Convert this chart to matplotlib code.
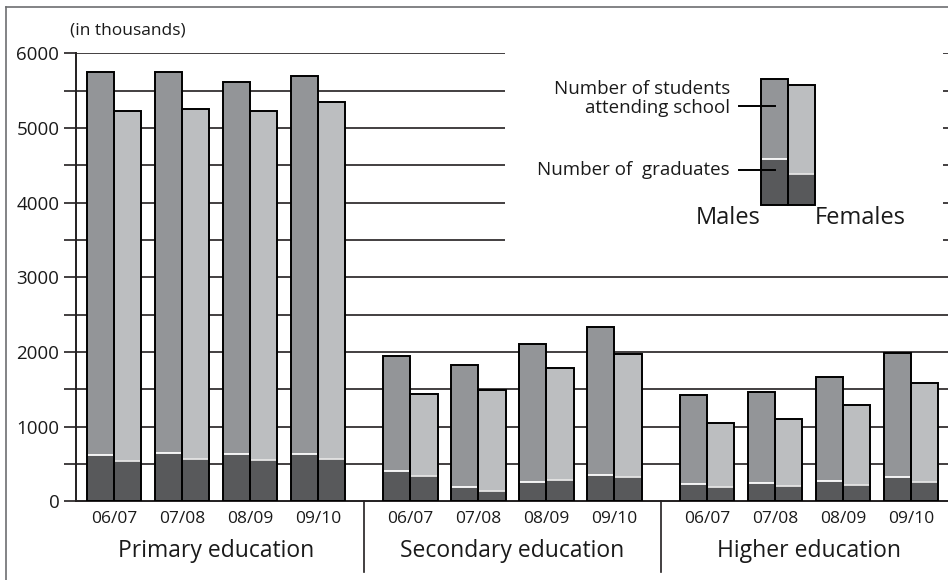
import matplotlib
matplotlib.use("Agg")
import matplotlib.pyplot as plt
from matplotlib.lines import Line2D

plt.rcParams['font.family'] = ['Open Sans', 'DejaVu Sans']

# ---------------- data (thousands) ----------------
groups = ["Primary education", "Secondary education", "Higher education"]
years = ["06/07", "07/08", "08/09", "09/10"]

male_students = [
    [5750, 5750, 5620, 5700],   # primary
    [1950, 1820, 2110, 2340],   # secondary
    [1430, 1460, 1670, 1980],   # higher
]
female_students = [
    [5230, 5260, 5230, 5350],
    [1440, 1490, 1780, 1970],
    [1050, 1100, 1290, 1590],
]
male_graduates = [
    [620, 650, 640, 640],
    [400, 190, 265, 350],
    [235, 240, 270, 320],
]
female_graduates = [
    [540, 560, 550, 560],
    [340, 140, 280, 330],
    [185, 205, 225, 265],
]

yticks_major = [0, 1000, 2000, 3000, 4000, 5000, 6000]
grid_values = [500, 1000, 1500, 2000, 2500, 3000, 3500, 4000, 4500, 5000, 5500, 6000]

# legend sample values
leg_male = (5650, 4580)
leg_female = (5570, 4380)
leg_base = 3970

# ---------------- style ----------------
C_MALE = "#939598"
C_FEMALE = "#bcbec0"
C_GRAD = "#58595b"
C_LINE = "#231f20"
C_TEXT = "#1a1a1a"
BW = 0.40
GSTEP = 4.36

fig = plt.figure(figsize=(9.48, 5.80), dpi=100)
ax = fig.add_axes([76 / 948, (580 - 501.3) / 580, (948 - 76) / 948, 448 / 580])
ax.set_xlim(-0.559, 12.265)
ax.set_ylim(0, 6000)

# gridlines (with a gap where the legend sits)
gap_l, gap_r = 5.75, 12.19
xl, xr = ax.get_xlim()
for v in grid_values:
    if v > 3000:
        ax.plot([xl, gap_l], [v, v], color=C_LINE, lw=1.2, zorder=1, solid_capstyle='butt')
        ax.plot([gap_r, xr], [v, v], color=C_LINE, lw=1.2, zorder=1, solid_capstyle='butt')
    else:
        ax.plot([xl, xr], [v, v], color=C_LINE, lw=1.2, zorder=1, solid_capstyle='butt')


def draw_pair(x, m_tot, m_grad, f_tot, f_grad, base=0):
    for (x0, tot, grad, col, sep) in [(x - BW, m_tot, m_grad, C_MALE, "white"),
                                      (x, f_tot, f_grad, C_FEMALE, "#e4e4e4")]:
        ax.bar(x0, tot - base, width=BW, bottom=base, align='edge', color=col,
               edgecolor='none', zorder=3)
        ax.bar(x0, grad - base, width=BW, bottom=base, align='edge', color=C_GRAD,
               edgecolor='none', zorder=4)
        ax.plot([x0, x0 + BW], [grad, grad], color=sep, lw=1.3, zorder=5,
                solid_capstyle='butt')
        ax.bar(x0, tot - base, width=BW, bottom=base, align='edge', fill=False,
               edgecolor='black', linewidth=1.4, zorder=6)


for g in range(len(groups)):
    for i in range(len(years)):
        x = g * GSTEP + i
        draw_pair(x, male_students[g][i], male_graduates[g][i],
                  female_students[g][i], female_graduates[g][i])

# year labels and group labels
tr = ax.get_xaxis_transform()
for g in range(len(groups)):
    for i, yl in enumerate(years):
        ax.text(g * GSTEP + i, -0.040, yl, transform=tr, ha='center', va='center',
                fontsize=12.5, color=C_TEXT)
    ax.text(g * GSTEP + 1.5, -0.112, groups[g], transform=tr, ha='center',
            va='center', fontsize=16.5, color=C_TEXT)

# group separators
for g in range(1, len(groups)):
    xs = ((g - 1) * GSTEP + 3 + BW + g * GSTEP - BW) / 2
    ax.plot([xs, xs], [0, -0.158], transform=tr, color=C_LINE, lw=1.2,
            clip_on=False)

# axes styling
for s in ['top', 'right']:
    ax.spines[s].set_visible(False)
for s in ['left', 'bottom']:
    ax.spines[s].set_linewidth(1.4)
    ax.spines[s].set_color(C_LINE)
ax.set_xticks([])
ytick_pos = [0] + grid_values
ax.set_yticks(ytick_pos)
ax.set_yticklabels([str(v) if v in yticks_major else "" for v in ytick_pos])
ax.tick_params(axis='y', length=9, width=1.2, color=C_LINE, labelsize=13.5,
               labelcolor=C_TEXT, pad=3)
ax.text(-0.007, 1.05, "(in thousands)", transform=ax.transAxes,
        ha='left', va='center', fontsize=12.5, color=C_TEXT)

# ---------------- legend ----------------
lx = 9.91
draw_pair(lx, leg_male[0], leg_male[1], leg_female[0], leg_female[1], base=leg_base)
ax.plot([9.19, 9.72], [5298, 5298], color='black', lw=1.4, zorder=7)
ax.plot([9.19, 9.72], [4437, 4437], color='black', lw=1.4, zorder=7)
ax.text(9.06, 5390, "Number of students\nattending school", ha='right', va='center',
        multialignment='right', fontsize=13.5, linespacing=1.05, color=C_TEXT)
ax.text(9.06, 4437, "Number of  graduates", ha='right', va='center', fontsize=13.5,
        color=C_TEXT)
ax.text(9.03, 3790, "Males", ha='center', va='center', fontsize=17, color=C_TEXT)
ax.text(10.97, 3790, "Females", ha='center', va='center', fontsize=17, color=C_TEXT)

# figure frame (top and left)
fig.add_artist(Line2D([6 / 948, 1], [1 - 7 / 580, 1 - 7 / 580], transform=fig.transFigure,
                      color='#6d6e71', lw=1.2))
fig.add_artist(Line2D([6 / 948, 6 / 948], [0, 1 - 7 / 580], transform=fig.transFigure,
                      color='#6d6e71', lw=1.2))

fig.savefig("out.png", dpi=100)
